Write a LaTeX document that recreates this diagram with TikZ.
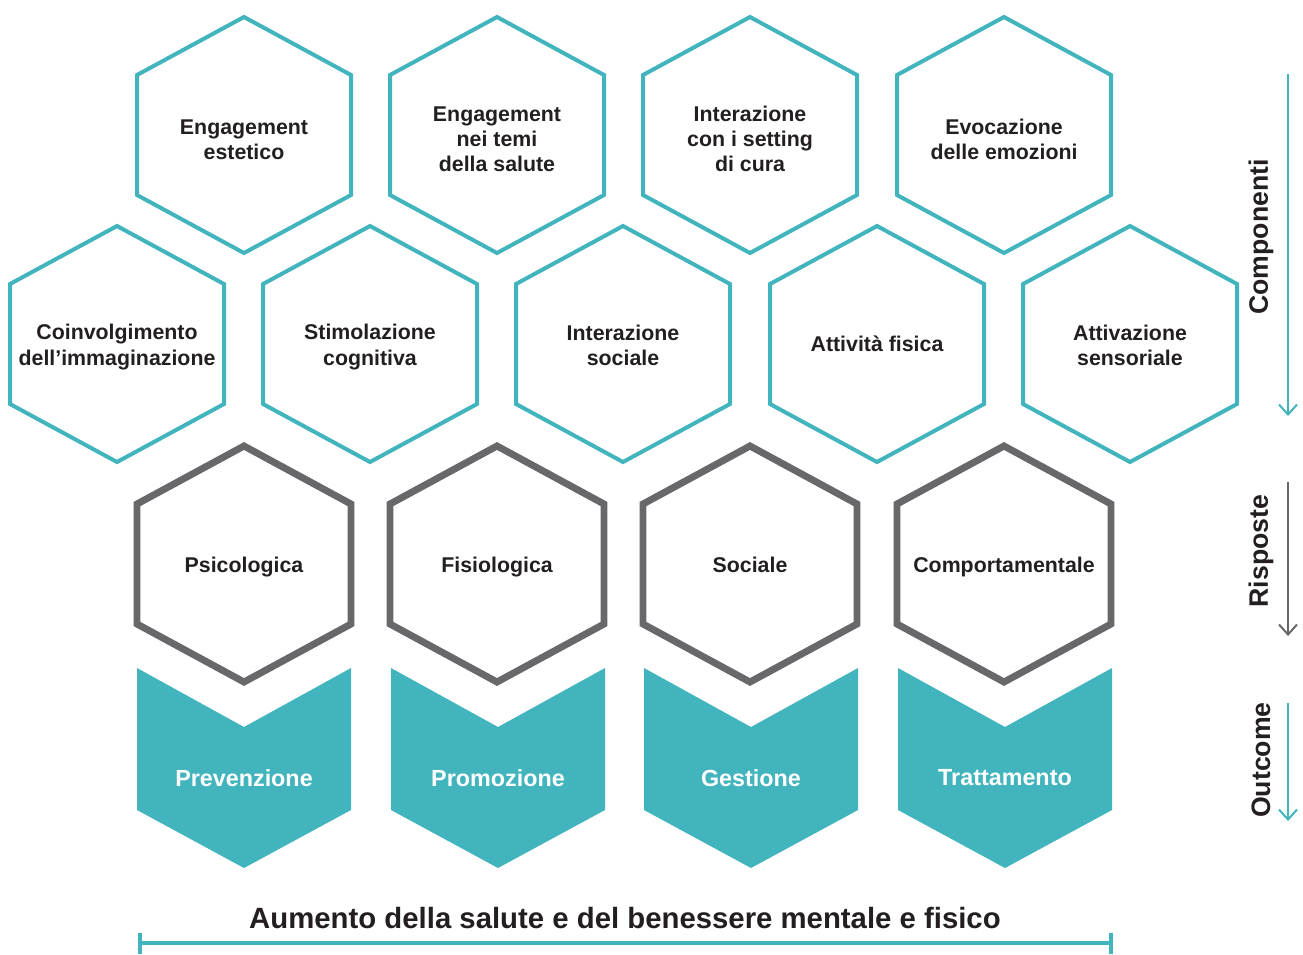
\documentclass[tikz,border=0pt]{standalone}
\usepackage{fontspec}
\setmainfont{Liberation Sans}
\usetikzlibrary{calc,arrows.meta}
\definecolor{hexteal}{RGB}{66,180,190}
\definecolor{hexgray}{RGB}{104,104,106}
\definecolor{textdark}{RGB}{35,31,32}
\def\hexagon[#1](#2,#3){\draw[#1] ($(#2,#3)+(0,-118)$) -- ++(107,58) -- ++(0,120) -- ++(-107,58) -- ++(-107,-58) -- ++(0,-120) -- cycle;}
\def\chevron(#1,#2){\fill[hexteal] (#1-107,#2) -- (#1,#2+59) -- (#1+107,#2) -- (#1+107,#2+142) -- (#1,#2+200) -- (#1-107,#2+142) -- cycle;}
\tikzset{
	tealhex/.style={line width=3pt, color=hexteal},
	grayhex/.style={line width=5.2pt, color=hexgray},
	hexlabel/.style={align=center, text=textdark, font=\fontsize{16}{18.8}\selectfont\bfseries},
	outlabel/.style={text=white, font=\fontsize{17.5}{20}\selectfont\bfseries},
	sidelabel/.style={rotate=90, text=textdark, font=\fontsize{20}{24}\selectfont\bfseries},
	sidearrow/.style={line width=1.5pt, -{Straight Barb[length=7.5pt, width=13.5pt]}},
}

\begin{document}
\begin{tikzpicture}[x=0.75pt, y=-0.75pt]
			%%%%% START %%%%%
			\useasboundingbox (0,0) rectangle (1303,954);
			
			% componenti, first row
			\hexagon[tealhex](244,135);
			\hexagon[tealhex](497,135);
			\hexagon[tealhex](750,135);
			\hexagon[tealhex](1004,135);
			\node[hexlabel] (engest) at (244,140) {Engagement\\estetico};
			\node[hexlabel] (engsal) at (497,139) {Engagement\\nei temi\\della salute};
			\node[hexlabel] (intset) at (750,139) {Interazione\\con i setting\\di cura};
			\node[hexlabel] (evoemo) at (1004,139) {Evocazione\\delle emozioni};
			
			% componenti, second row
			\hexagon[tealhex](117,344);
			\hexagon[tealhex](370,344);
			\hexagon[tealhex](623,344);
			\hexagon[tealhex](877,344);
			\hexagon[tealhex](1130,344);
			\node[hexlabel] (coinv) at (117,347) {Coinvolgimento\\dell’immaginazione};
			\node[hexlabel] (stimcog) at (370,347) {Stimolazione\\cognitiva};
			\node[hexlabel] (intsoc) at (623,345) {Interazione\\sociale};
			\node[hexlabel] (attfis) at (877,344) {Attività fisica};
			\node[hexlabel] (attsens) at (1130,345) {Attivazione\\sensoriale};
			
			% risposte
			\hexagon[grayhex](244,564);
			\hexagon[grayhex](497,564);
			\hexagon[grayhex](750,564);
			\hexagon[grayhex](1004,564);
			\node[hexlabel] (psico) at (244,567) {Psicologica};
			\node[hexlabel] (fisio) at (497,567) {Fisiologica};
			\node[hexlabel] (soc) at (750,565) {Sociale};
			\node[hexlabel] (comport) at (1004,567) {Comportamentale};
			
			% outcome
			\chevron(244,668);
			\chevron(498,668);
			\chevron(751,668);
			\chevron(1005,668);
			\node[outlabel] (prev) at (244,778) {Prevenzione};
			\node[outlabel] (prom) at (498,778) {Promozione};
			\node[outlabel] (gest) at (751,778) {Gestione};
			\node[outlabel] (tratt) at (1005,778) {Trattamento};
			
			% side arrows
			\node[sidelabel] (comp) at (1261,237) {Componenti};
			\coordinate (compA) at (1288,74);
			\coordinate (compB) at (1288,416);
			\draw[sidearrow, hexteal] (compA) -- (compB);
			
			\node[sidelabel] (risp) at (1261,551) {Risposte};
			\coordinate (rispA) at (1288,482);
			\coordinate (rispB) at (1288,636);
			\draw[sidearrow, hexgray] (rispA) -- (rispB);
			
			\node[sidelabel] (outc) at (1261,760) {Outcome};
			\coordinate (outcA) at (1288,703);
			\coordinate (outcB) at (1288,821);
			\draw[sidearrow, hexteal] (outcA) -- (outcB);
			
			% bottom bracket
			\node[text=textdark, font=\fontsize{22}{26}\selectfont\bfseries] (aumento) at (625,918) {Aumento della salute e del benessere mentale e fisico};
			\coordinate (brL) at (140,943);
			\coordinate (brR) at (1111,943);
			\draw[line width=3pt, hexteal] (brL) -- (brR);
			\draw[line width=3pt, hexteal] ($(brL)+(0,-10)$) -- ($(brL)+(0,11)$);
			\draw[line width=3pt, hexteal] ($(brR)+(0,-10)$) -- ($(brR)+(0,11)$);
			
			%%%%% END %%%%%
\end{tikzpicture}
\end{document}
